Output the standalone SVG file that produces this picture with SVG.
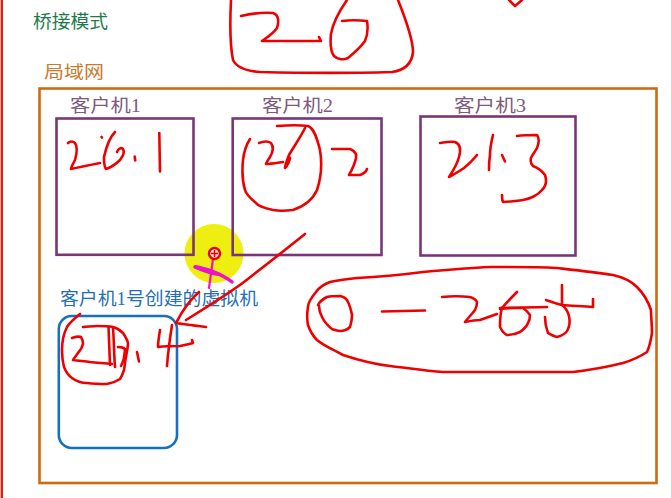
<svg xmlns="http://www.w3.org/2000/svg" width="671" height="498" viewBox="0 0 671 498">
<style>
.lbl{font-family:"Liberation Serif","Noto Sans CJK SC",serif;font-size:18px;fill:#7d5a80}
.box{fill:none;stroke:#7a3578;stroke-width:2.6}
.ink{fill:none;stroke:#ee0000;stroke-width:2.6;stroke-linecap:round;stroke-linejoin:round}
</style>
<rect width="671" height="498" fill="#ffffff"/>
<line x1="1.8" y1="0" x2="1.8" y2="498" stroke="#e02010" stroke-width="2.4"/>
<text x="33" y="28" font-family="Noto Sans CJK SC,sans-serif" font-size="18" fill="#1e7a4a" textLength="75" lengthAdjust="spacingAndGlyphs">桥接模式</text>
<g id="lan">
<text x="44" y="78" font-family="Noto Sans CJK SC,sans-serif" font-size="17" fill="#cc7a2e" textLength="60" lengthAdjust="spacingAndGlyphs">局域网</text>
<rect x="39.5" y="88.5" width="617" height="394.5" fill="none" stroke="#d06a10" stroke-width="2.6"/>
</g>
<circle cx="214" cy="253.5" r="29.5" fill="#eeee10"/>
<g id="client1">
<text class="lbl" x="70" y="112" textLength="71" lengthAdjust="spacingAndGlyphs">客户机1</text>
<rect class="box" x="56.5" y="118.5" width="137" height="136.3"/>
</g>
<g id="client2">
<text class="lbl" x="262" y="112" textLength="71" lengthAdjust="spacingAndGlyphs">客户机2</text>
<rect class="box" x="232.7" y="118.5" width="148.8" height="136.5"/>
</g>
<g id="client3">
<text class="lbl" x="454" y="112" textLength="72" lengthAdjust="spacingAndGlyphs">客户机3</text>
<rect class="box" x="420.5" y="116.5" width="155" height="139"/>
</g>
<g id="vm">
<text x="60" y="305" font-family="Liberation Serif,Noto Sans CJK SC,serif" font-size="18" fill="#1f6fb5" textLength="198" lengthAdjust="spacingAndGlyphs">客户机1号创建的虚拟机</text>
<rect x="58.8" y="316" width="118.2" height="132" rx="13" fill="none" stroke="#1570c0" stroke-width="2.6"/>
</g>
<g id="cursor">
<path d="M195,267 C205,268 222,274 232,282" fill="none" stroke="#ee11cc" stroke-width="3.5" stroke-linecap="round"/>
<path d="M196,267 C204,271 212,273 218,274" fill="none" stroke="#ee11cc" stroke-width="4" stroke-linecap="round"/>
<path d="M213,259 L209,288" fill="none" stroke="#ee11cc" stroke-width="2.2" stroke-linecap="round"/>
<circle cx="214.5" cy="253.5" r="5.5" fill="#ffdddd" stroke="#ee0000" stroke-width="2.4"/>
<path d="M211,253.5 H218 M214.5,250 V257" stroke="#ee0000" stroke-width="1.4"/>
</g>
<g id="connectors">
<path class="ink" d="M305,234 C285,250 262,268 244,282 C232,291 215,302 186,320"/>
<path class="ink" d="M199,292 C192,298 186,306 181,314 C179,318 177,321 176,323 C182,324 190,325 206,327"/>
</g>
<g id="handwriting">
<path class="ink" d="M231,0 C230,20 230,45 233,60 C237,68 246,71 260,72 C300,73 360,73 392,72 C406,70 412,62 413,52 C413,40 406,20 398,0"/>
<path class="ink" d="M241,16 C250,14 262,12 273,13 C279,15 279,22 277,28 C273,34 266,38 262,41 C275,41 300,41 321,41 L319,37"/>
<path class="ink" d="M347,0 C340,10 333,22 331,34 C330,44 331,52 334,56 C338,60 344,60 348,58 C354,53 360,48 365,41 C368,34 368,27 367,21 C358,20 350,20 342,21"/>
<path class="ink" d="M509,0 L515,6 L522,0"/>
<path class="ink" d="M68,143 C70,141 73,141 75,143 C78,147 77,153 75,160 C73,164 71,167 71,169 C80,167 90,165 100,163"/>
<path class="ink" d="M115,132 C110,137 106,148 104,157 C104,163 105,168 106,169 C109,168 116,164 120,160 C123,156 125,152 123,149 C121,147 118,149 117,152"/>
<path class="ink" d="M101.5,137 L102,137.6"/>
<path class="ink" d="M134.7,156.5 L135.2,160.5"/>
<path class="ink" d="M159.3,133 L160,171.5"/>
<path class="ink" d="M277,126 C290,125 300,125 308,126 C314,128 317,138 320,150 C322,162 322,175 317,190 C313,199 305,206 293,210 C285,211 278,211 273,210 C264,208 258,206 256,203 C250,198 246,194 245,190 C242,180 242,170 243,160 C244,152 246,145 250,139"/>
<path class="ink" d="M259,143 C264,141 268,141 271,143 C274,147 273,152 270,157 C268,160 266,163 266,164 C270,164 276,163 283,162"/>
<path class="ink" d="M305,128 C300,138 293,148 289,155 C287,160 285,165 285,168 C287,166 289,163 290,158 C290,157 288,158 287,160"/>
<path class="ink" d="M332,149 C340,149 346,149 350,149 C355,151 357,154 356,158 C355,163 353,168 349,175 C353,175 357,175 360,175 C363,174 366,172 367,169"/>
<path class="ink" d="M440,143 C446,142 451,141 455,142 C460,144 461,150 459,157 C457,165 453,171 449,177 C455,174 461,170 464,168 C469,164 473,160 477,155"/>
<path class="ink" d="M493,135 C491,143 490,150 490,155 C489,161 489,166 489,170"/>
<path class="ink" d="M502,155 L505,161.5"/>
<path class="ink" d="M517,136 C524,135 531,135 537,135 C540,139 539,143 537,148 C535,152 532,155 531,158 C530,162 531,164 533,166 C538,168 542,171 545,175 C547,181 546,186 542,190 C538,195 530,199 523,200 C515,201 508,202 503,202 C502,200 502,198 502,195"/>
<path class="ink" d="M80,314 C75,318 70,322 67,327 C63,335 62,343 62,350 C62,358 63,363 64,367 C66,372 69,376 72,378 C76,381 81,383 87,383 C95,384 101,384 107,384 C113,383 117,381 120,379 C122,376 123,373 124,370 C125,365 125,361 126,357 C127,351 128,347 128,343 C127,339 125,336 123,333 C120,330 117,328 113,327 C108,326 102,326 97,326 C92,326 87,327 83,327"/>
<path class="ink" d="M72,338 C75,337 78,336 81,337 C83,340 83,343 83,344 C82,348 80,351 78,353 C76,356 74,358 73,360 C79,361 85,361 90,362 C97,363 104,363 112,364"/>
<path class="ink" d="M108.5,327 L110,365"/>
<path class="ink" d="M113,328 C114,340 114,355 115,367"/>
<path class="ink" d="M118,347 C121,347 123,347 125,349 C125,352 124,356 124,358 C123,362 122,364 121,366"/>
<path class="ink" d="M137,352 L139,361.5"/>
<path class="ink" d="M160,330 C159,336 158,342 158,347 C166,346 174,346 180,346 C185,345 190,344 193,343 L192,340"/>
<path class="ink" d="M172,325 C170,338 168,352 167,366"/>
<path class="ink" d="M330,282 C322,285 318,289 316,292 C311,298 308,303 308,307 C307,313 307,320 308,325 C310,331 313,336 317,340 C324,346 334,350 343,355 C358,360 373,364 390,366 C408,368 425,371 443,372 C463,372 483,372 503,372 C527,372 550,372 573,372 C590,370 607,367 623,363 C633,360 641,356 647,352 C650,346 651,339 652,333 C652,325 651,317 651,310 C648,301 643,293 637,287 C630,280 622,277 613,275 C594,272 575,270 557,268 C535,267 512,267 490,267 C468,268 445,270 423,272 C400,275 378,277 357,278 C347,279 338,280 330,282"/>
<path class="ink" d="M318,305 C320,301 323,299 327,297 C331,296 336,296 340,296 C344,297 347,299 348,302 C350,306 351,310 352,315 C352,320 351,324 350,327 C347,330 343,331 340,331 C336,330 333,330 332,329 C328,326 324,321 322,317 C320,313 319,309 319,306"/>
<path class="ink" d="M382,311.5 L425,310.5"/>
<path class="ink" d="M442,297 C451,296 461,296 470,297 C474,298 476,300 477,302 C477,305 476,308 475,310 C472,314 468,318 465,322 C470,321 475,320 480,320 C486,318 491,316 497,314"/>
<path class="ink" d="M517,292 C512,297 507,302 502,308 C500,314 500,320 500,327 C502,331 504,334 507,335 C512,335 516,334 520,332 C524,329 527,326 528,323 C530,320 530,317 530,315 C528,312 526,310 523,308 C519,308 515,308 510,308 C506,308 503,309 500,309"/>
<path class="ink" d="M500,308 C515,308 532,307 547,307"/>
<path class="ink" d="M546,300 C552,302 557,304 562,305 C572,306 583,306 593,307 L593,299"/>
<path class="ink" d="M562,285 C562,292 562,299 562,305 C566,308 568,312 569,316 C570,321 570,325 568,329 C567,333 564,335 557,337 C552,336 550,334 548,333 C546,328 545,322 545,317"/>
</g>
</svg>
